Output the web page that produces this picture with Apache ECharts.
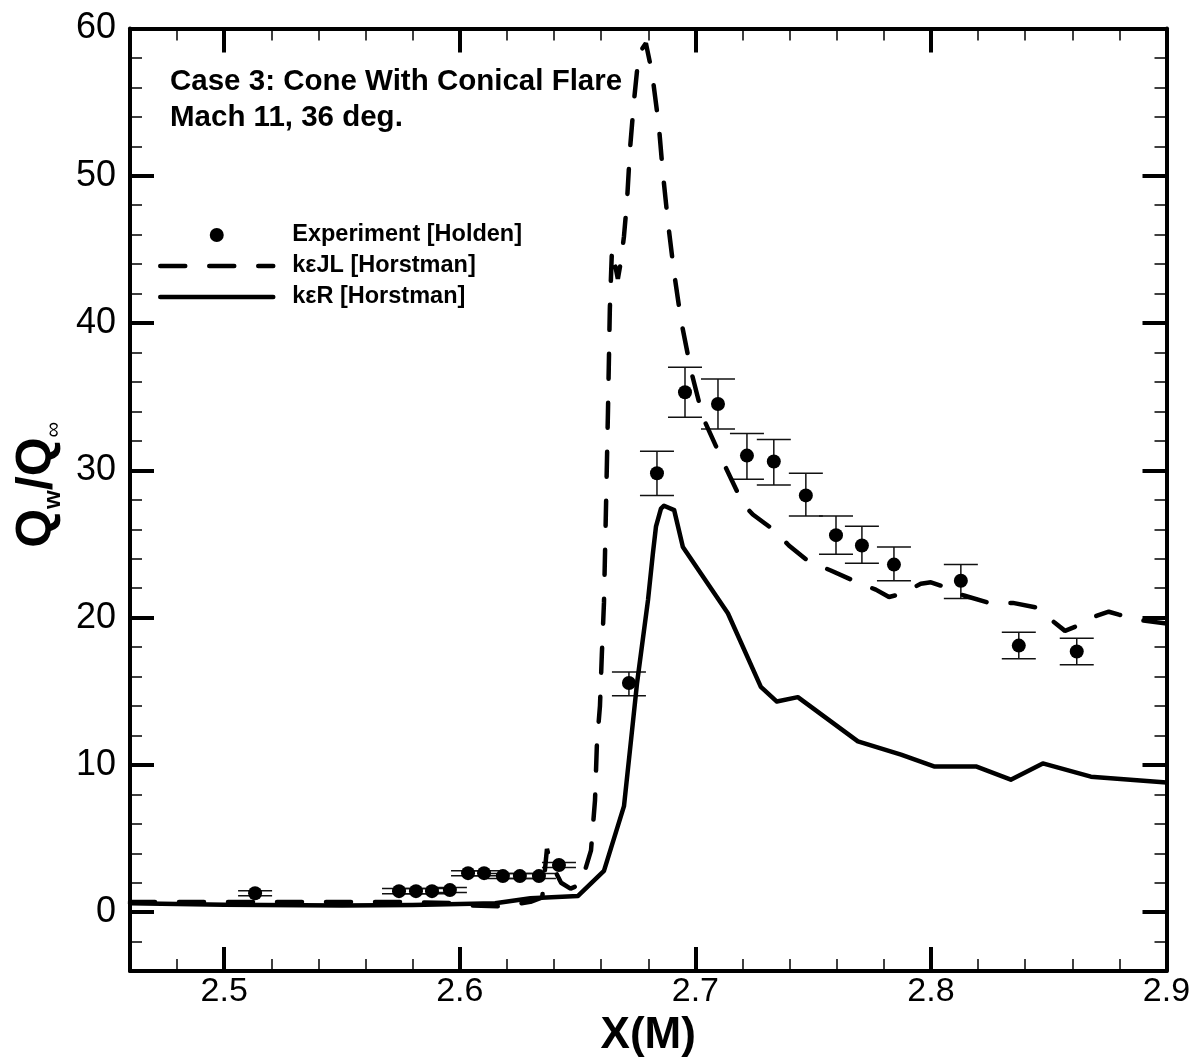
<!DOCTYPE html>
<html>
<head>
<meta charset="utf-8">
<script src="https://cdn.jsdelivr.net/npm/echarts@6/dist/echarts.min.js"></script>
<style>
  html, body { margin: 0; padding: 0; background: #fff; }
  #chart { width: 1197px; height: 1063px; }
</style>
</head>
<body>
<div id="chart"></div>
<script>
// axis ticks
var xMajorTicks = [2.5, 2.6, 2.7, 2.8, 2.9];
var xMinorTicks = [2.48, 2.52, 2.54, 2.56, 2.58, 2.62, 2.64, 2.66, 2.68, 2.72, 2.74, 2.76, 2.78, 2.82, 2.84, 2.86, 2.88];
var yMajorTicks = [0, 10, 20, 30, 40, 50, 60];
var yMinorTicks = [-2, 2, 4, 6, 8, 12, 14, 16, 18, 22, 24, 26, 28, 32, 34, 36, 38, 42, 44, 46, 48, 52, 54, 56, 58];

// Experiment [Holden]
var expX  = [2.5131, 2.5742, 2.5814, 2.5882, 2.5958, 2.6035, 2.6103, 2.6183, 2.6255, 2.6336, 2.6421,
             2.6718, 2.6837, 2.6956, 2.7096, 2.7219, 2.7333, 2.7469, 2.7597, 2.7707, 2.7843, 2.8127, 2.8373, 2.8619];
var expY  = [1.29, 1.43, 1.43, 1.43, 1.5, 2.65, 2.65, 2.45, 2.45, 2.45, 3.2,
             15.56, 29.8, 35.3, 34.5, 31.0, 30.6, 28.3, 25.6, 24.9, 23.6, 22.5, 18.1, 17.7];
var expLo = [1.12, 1.26, 1.26, 1.26, 1.33, 2.48, 2.48, 2.28, 2.28, 2.28, 3.03,
             14.7, 28.3, 33.6, 32.8, 29.4, 29.0, 26.9, 24.3, 23.7, 22.5, 21.3, 17.2, 16.8];
var expHi = [1.46, 1.6, 1.6, 1.6, 1.67, 2.82, 2.82, 2.62, 2.62, 2.62, 3.37,
             16.3, 31.3, 37.0, 36.2, 32.5, 32.1, 29.8, 26.9, 26.2, 24.8, 23.6, 19.0, 18.6];

// kεJL [Horstman]
var jlX = [2.46, 2.575, 2.6, 2.605, 2.6175, 2.63, 2.635, 2.637, 2.6383, 2.643, 2.647, 2.6514, 2.6557,
           2.6574, 2.6582, 2.6595, 2.6603, 2.6612, 2.662, 2.6629, 2.6637, 2.6646, 2.6671, 2.6684, 2.6697,
           2.671, 2.6722, 2.6739, 2.6756, 2.6765, 2.679, 2.6816, 2.6845, 2.6862, 2.6884, 2.6909, 2.6939,
           2.6981, 2.7032, 2.7117, 2.7185, 2.7215, 2.7244, 2.7329, 2.7397, 2.7482, 2.7575, 2.7673, 2.7766,
           2.7822, 2.7873, 2.7957, 2.8, 2.8055, 2.814, 2.8246, 2.8348, 2.8445, 2.8522, 2.8569, 2.8615,
           2.87, 2.8755, 2.8798, 2.89, 2.9];
var jlY = [0.7, 0.7, 0.6, 0.45, 0.4, 0.7, 1.0, 4.3, 3.5, 2.0, 1.6, 1.9, 4.2,
           7.6, 11.4, 14, 17.5, 21, 27, 34, 41, 45, 43, 44.2, 45.9,
           48.3, 51.7, 55, 57.7, 58.4, 59, 57, 53.4, 50.2, 46.8, 43.5, 40.2,
           36.8, 33.6, 30.6, 28.3, 27.5, 27.0, 26.0, 24.9, 23.8, 23.2, 22.5, 21.9,
           21.4, 21.6, 22.3, 22.4, 22.1, 21.5, 21.0, 21.0, 20.7, 19.7, 19.1, 19.4,
           20.1, 20.4, 20.2, 19.8, 19.6];

// kεR [Horstman]
var rX = [2.46, 2.5, 2.55, 2.58, 2.6, 2.615, 2.63, 2.6502, 2.6612, 2.6697, 2.6727, 2.6752, 2.6799,
          2.682, 2.6833, 2.6854, 2.6867, 2.691, 2.6947, 2.7138, 2.7278, 2.7346, 2.7435, 2.769, 2.7873,
          2.8013, 2.8191, 2.8339, 2.8475, 2.8679, 2.9];
var rY = [0.6, 0.5, 0.45, 0.48, 0.55, 0.6, 0.95, 1.1, 2.8, 7.2, 11.7, 15.5, 21.2,
          24.4, 26.2, 27.4, 27.6, 27.3, 24.8, 20.3, 15.3, 14.3, 14.6, 11.6, 10.7,
          9.9, 9.9, 9.0, 10.1, 9.2, 8.8];

var chart = echarts.init(document.getElementById('chart'));
var FONT = '"Liberation Sans", Arial, Helvetica, sans-serif';

function pairs(xs, ys) {
  return xs.map(function (x, i) { return [x, ys[i]]; });
}

function xAxisDef(pos, ticks, major) {
  return {
    type: 'value', position: pos, min: 2.46, max: 2.9,
    axisLine: { show: major, onZero: false, lineStyle: { color: '#000', width: 4 } },
    axisTick: { show: true, inside: true, customValues: ticks, length: major ? 24 : 12,
                lineStyle: { color: '#000', width: major ? 4 : 1.5 } },
    axisLabel: { show: major && pos === 'bottom', customValues: ticks, color: '#000',
                 fontSize: 34, fontFamily: FONT, margin: 4,
                 formatter: function (v) { return v.toFixed(1); } },
    splitLine: { show: false }
  };
}
function yAxisDef(pos, ticks, major) {
  return {
    type: 'value', position: pos, min: -4, max: 60,
    axisLine: { show: major, onZero: false, lineStyle: { color: '#000', width: 4 } },
    axisTick: { show: true, inside: true, customValues: ticks, length: major ? 24 : 12,
                lineStyle: { color: '#000', width: major ? 4 : 1.5 } },
    axisLabel: { show: major && pos === 'left', customValues: ticks, color: '#000',
                 fontSize: 36, fontFamily: FONT, margin: 14 },
    splitLine: { show: false }
  };
}

var xBottom = xAxisDef('bottom', xMajorTicks, true);
xBottom.name = 'X(M)';
xBottom.nameLocation = 'middle';
xBottom.nameGap = 38;
xBottom.nameTextStyle = { color: '#000', fontSize: 44, fontWeight: 'bold', fontFamily: FONT };

var yLeft = yAxisDef('left', yMajorTicks, true);
yLeft.name = '{a|Q}{b|w}{a|/Q}{c|∞}';
yLeft.nameLocation = 'middle';
yLeft.nameGap = 60;
yLeft.nameTextStyle = {
  color: '#000', fontFamily: FONT, padding: [0, 0, 0, 30],
  rich: {
    a: { fontSize: 50, fontWeight: 'bold', fontFamily: FONT, color: '#000', lineHeight: 56 },
    b: { fontSize: 24, fontWeight: 'bold', fontFamily: FONT, color: '#000', verticalAlign: 'bottom', lineHeight: 56 },
    c: { fontSize: 22, fontFamily: FONT, color: '#000', verticalAlign: 'bottom', lineHeight: 56 }
  }
};

var noSymbol = { opacity: 0, color: 'transparent', borderWidth: 0 };

var option = {
  backgroundColor: '#fff',
  animation: false,
  grid: { left: 130, right: 30.5, top: 28.5, bottom: 91 },
  xAxis: [xBottom, xAxisDef('bottom', xMinorTicks, false), xAxisDef('top', xMajorTicks, true), xAxisDef('top', xMinorTicks, false)],
  yAxis: [yLeft, yAxisDef('left', yMinorTicks, false), yAxisDef('right', yMajorTicks, true), yAxisDef('right', yMinorTicks, false)],
  legend: {
    orient: 'vertical', left: 153, top: 218,
    itemWidth: 113, itemHeight: 14, itemGap: 7,
    lineStyle: { width: 4.5 },
    textStyle: { color: '#000', fontSize: 23.5, fontWeight: 'bold', fontFamily: FONT, lineHeight: 22, padding: [0, 0, 0, 14] },
    data: [
      { name: 'Experiment [Holden]', icon: 'circle', itemStyle: { opacity: 1, color: '#000' } },
      { name: 'kεJL [Horstman]', itemStyle: noSymbol },
      { name: 'kεR [Horstman]', itemStyle: noSymbol }
    ]
  },
  graphic: [
    { type: 'text', x: 170, y: 82, style: { text: 'Case 3: Cone With Conical Flare', font: 'bold 29.5px ' + FONT, fill: '#000', verticalAlign: 'middle' } },
    { type: 'text', x: 170, y: 118, style: { text: 'Mach 11, 36 deg.', font: 'bold 29.5px ' + FONT, fill: '#000', verticalAlign: 'middle' } }
  ],
  series: [
    {
      name: 'kεJL [Horstman]', type: 'line', data: pairs(jlX, jlY),
      symbol: 'none', showSymbol: false,
      lineStyle: { color: '#000', width: 4.5, type: [25, 24], cap: 'round' },
      itemStyle: { color: '#000' }
    },
    {
      name: 'kεR [Horstman]', type: 'line', data: pairs(rX, rY),
      symbol: 'none', showSymbol: false,
      lineStyle: { color: '#000', width: 4.5, cap: 'round', join: 'round' },
      itemStyle: { color: '#000' }
    },
    {
      name: 'errors', type: 'custom',
      data: expX.map(function (x, i) { return [x, expLo[i], expHi[i]]; }),
      encode: { x: 0, y: [1, 2] },
      renderItem: function (params, api) {
        var lo = api.coord([api.value(0), api.value(1)]);
        var hi = api.coord([api.value(0), api.value(2)]);
        var w = 17;
        var st = { stroke: '#111', lineWidth: 1.5 };
        return {
          type: 'group',
          children: [
            { type: 'line', shape: { x1: lo[0], y1: lo[1], x2: hi[0], y2: hi[1] }, style: st },
            { type: 'line', shape: { x1: lo[0] - w, y1: lo[1], x2: lo[0] + w, y2: lo[1] }, style: st },
            { type: 'line', shape: { x1: hi[0] - w, y1: hi[1], x2: hi[0] + w, y2: hi[1] }, style: st }
          ]
        };
      },
      z: 3
    },
    {
      name: 'Experiment [Holden]', type: 'scatter', data: pairs(expX, expY),
      symbol: 'circle', symbolSize: 14,
      itemStyle: { color: '#000', opacity: 1 }, z: 4
    }
  ]
};
chart.setOption(option);
</script>
</body>
</html>
